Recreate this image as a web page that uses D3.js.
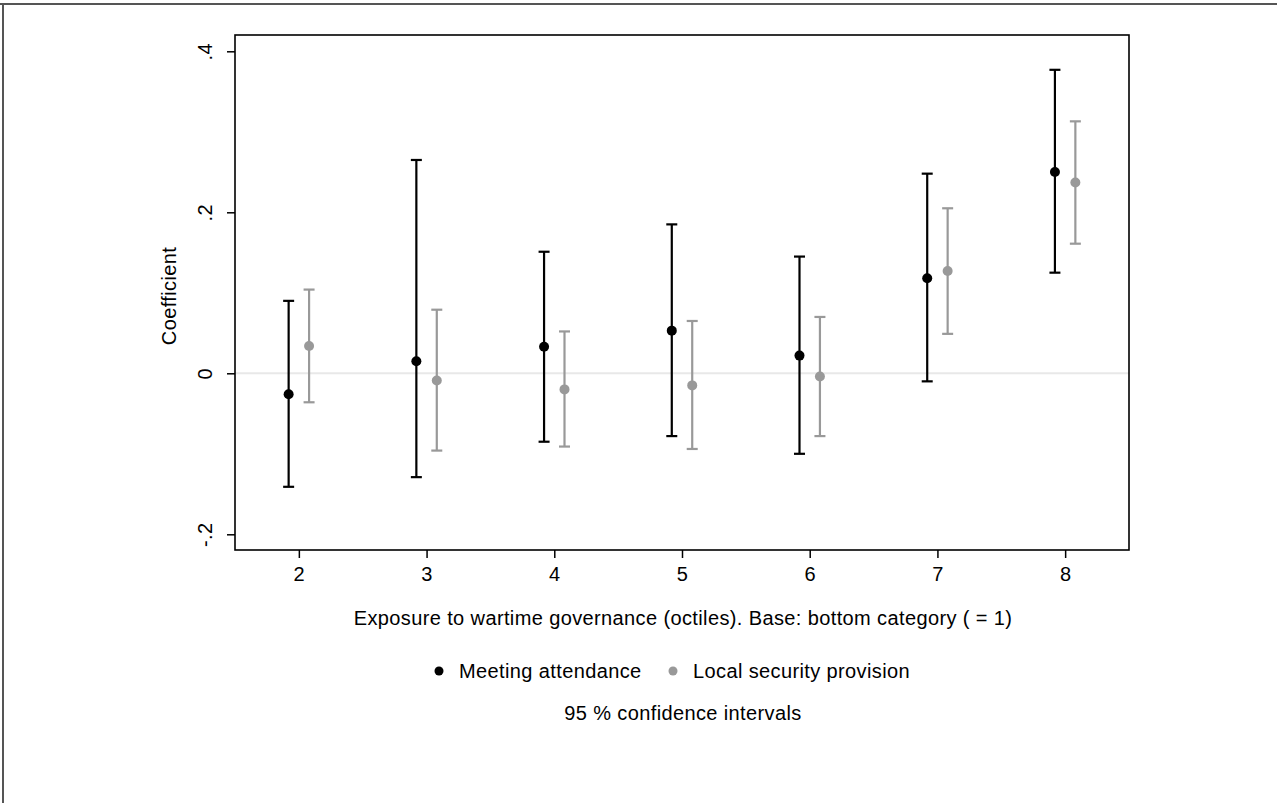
<!DOCTYPE html>
<html>
<head>
<meta charset="utf-8">
<script src="https://cdn.jsdelivr.net/npm/d3@7"></script>
<style>
  html, body { margin: 0; padding: 0; background: #fff; }
  svg { display: block; font-family: "Liberation Sans", Arial, Helvetica, sans-serif; }
  .lbl { font-size: 20px; letter-spacing: 0.38px; fill: #000; }
</style>
</head>
<body>
<svg id="chart" width="1283" height="803"></svg>
<script>
// Octile categories (base = 1 omitted)
const categories = [2, 3, 4, 5, 6, 7, 8];

// Meeting attendance: point estimate and 95% CI
const meetCoef  = [-0.026, 0.015, 0.033, 0.053, 0.022, 0.118, 0.250];
const meetLower = [-0.141, -0.129, -0.085, -0.078, -0.100, -0.010, 0.125];
const meetUpper = [0.090, 0.265, 0.151, 0.185, 0.145, 0.248, 0.377];

// Local security provision: point estimate and 95% CI
const secCoef  = [0.034, -0.009, -0.020, -0.015, -0.004, 0.127, 0.237];
const secLower = [-0.036, -0.096, -0.091, -0.094, -0.078, 0.049, 0.161];
const secUpper = [0.104, 0.079, 0.052, 0.065, 0.070, 0.205, 0.313];

const yTicks = [-0.2, 0, 0.2, 0.4];
const yTickLabels = ["-.2", "0", ".2", ".4"];

const seriesNames = ["Meeting attendance", "Local security provision"];
const seriesColors = ["#000000", "#999999"];

const svg = d3.select("#chart");

// Outer graph frame (top and left edges)
svg.append("line").attr("x1", 0).attr("x2", 1277).attr("y1", 4).attr("y2", 4)
  .attr("stroke", "#555").attr("stroke-width", 2);
svg.append("line").attr("x1", 3).attr("x2", 3).attr("y1", 4).attr("y2", 803)
  .attr("stroke", "#555").attr("stroke-width", 2);

const plot = { left: 235, right: 1129, top: 35, bottom: 550 };

const x = d3.scaleLinear().domain([1.5, 8.5]).range([plot.left, plot.right]);
const y = d3.scaleLinear().domain([-0.2, 0.4]).range([534.3, 51.3]);
const offset = 0.08;

// Zero reference line
svg.append("line")
  .attr("x1", plot.left).attr("x2", plot.right)
  .attr("y1", y(0)).attr("y2", y(0))
  .attr("stroke", "#e8e8e8").attr("stroke-width", 2);

// Y axis with rotated tick labels
const yAxis = svg.append("g")
  .attr("transform", `translate(${plot.left},0)`)
  .call(d3.axisLeft(y).tickValues(yTicks).tickSize(8)
    .tickFormat((d, i) => yTickLabels[i]));
yAxis.select(".domain").remove();
yAxis.selectAll(".tick line").attr("stroke", "#000").attr("stroke-width", 1.5);
yAxis.selectAll(".tick text")
  .attr("class", "lbl")
  .attr("text-anchor", "middle")
  .attr("x", 0).attr("y", 0).attr("dy", "0.35em")
  .attr("transform", "translate(-30,0) rotate(-90)");

// X axis
const xAxis = svg.append("g")
  .attr("transform", `translate(0,${plot.bottom})`)
  .call(d3.axisBottom(x).tickValues(categories).tickSize(8).tickFormat(d3.format("d")));
xAxis.select(".domain").remove();
xAxis.selectAll(".tick line").attr("stroke", "#000").attr("stroke-width", 1.5);
xAxis.selectAll(".tick text").attr("class", "lbl").attr("y", 24).attr("dy", "0.35em");

// Plot region border
svg.append("rect")
  .attr("x", plot.left).attr("y", plot.top)
  .attr("width", plot.right - plot.left).attr("height", plot.bottom - plot.top)
  .attr("fill", "none").attr("stroke", "#000").attr("stroke-width", 1.6);

// Axis titles
svg.append("text").attr("class", "lbl")
  .attr("transform", "translate(169,296) rotate(-90)")
  .attr("text-anchor", "middle").attr("dy", "0.35em")
  .text("Coefficient");

svg.append("text").attr("class", "lbl")
  .attr("x", 683).attr("y", 618).attr("dy", "0.35em")
  .attr("text-anchor", "middle")
  .text("Exposure to wartime governance (octiles). Base: bottom category ( = 1)");

// Confidence intervals and point estimates
const series = [
  { coef: meetCoef, lo: meetLower, hi: meetUpper, shift: -offset, color: seriesColors[0] },
  { coef: secCoef, lo: secLower, hi: secUpper, shift: offset, color: seriesColors[1] }
];
const capHalf = 5.5;

series.forEach(s => {
  const rows = categories.map((c, i) => ({ c, coef: s.coef[i], lo: s.lo[i], hi: s.hi[i] }));
  const g = svg.append("g");
  g.selectAll("line.ci").data(rows).join("line")
    .attr("x1", d => x(d.c + s.shift)).attr("x2", d => x(d.c + s.shift))
    .attr("y1", d => y(d.lo)).attr("y2", d => y(d.hi))
    .attr("stroke", s.color).attr("stroke-width", 2.2);
  ["lo", "hi"].forEach(k => {
    g.selectAll("line.cap-" + k).data(rows).join("line")
      .attr("x1", d => x(d.c + s.shift) - capHalf).attr("x2", d => x(d.c + s.shift) + capHalf)
      .attr("y1", d => y(d[k])).attr("y2", d => y(d[k]))
      .attr("stroke", s.color).attr("stroke-width", 2.2);
  });
  g.selectAll("circle").data(rows).join("circle")
    .attr("cx", d => x(d.c + s.shift)).attr("cy", d => y(d.coef))
    .attr("r", 5).attr("fill", s.color);
});

// Legend
const legendItems = [
  { name: seriesNames[0], color: seriesColors[0], cx: 439 },
  { name: seriesNames[1], color: seriesColors[1], cx: 673 }
];
legendItems.forEach(it => {
  svg.append("circle").attr("cx", it.cx).attr("cy", 671).attr("r", 4.5).attr("fill", it.color);
  svg.append("text").attr("class", "lbl").attr("x", it.cx + 20).attr("y", 671).attr("dy", "0.35em")
    .text(it.name);
});

svg.append("text").attr("class", "lbl")
  .attr("x", 683).attr("y", 713).attr("dy", "0.35em")
  .attr("text-anchor", "middle")
  .text("95 % confidence intervals");
</script>
</body>
</html>
